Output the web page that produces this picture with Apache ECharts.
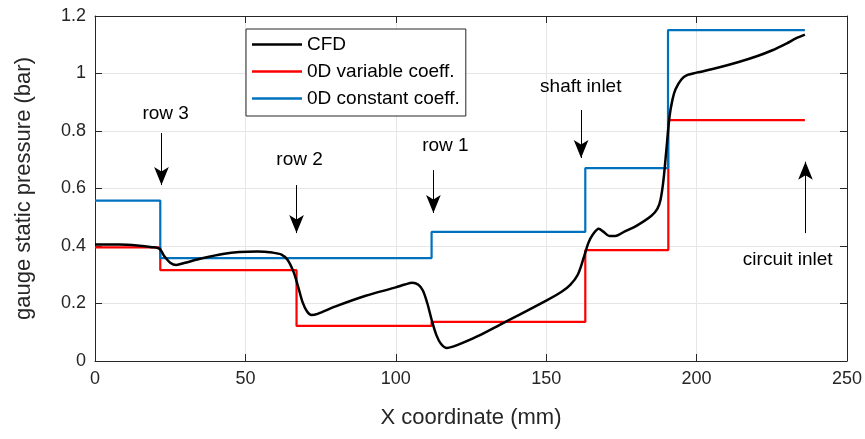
<!DOCTYPE html>
<html><head><meta charset="utf-8">
<script src="https://cdn.jsdelivr.net/npm/echarts@6/dist/echarts.min.js"></script>
<style>html,body{margin:0;padding:0;background:#fff}#c{width:865px;height:439px}</style>
</head><body><div id="c"></div>
<script>
// CFD curve
const cfdX = [0,8,14,19,21.5,23,25,27,30,36,42.5,48,54,59,62,64,66,67.5,69,70.5,72,74,80,90,100,103,105.5,107.5,109,110.5,112,113.5,115,117,119,122,128,135.5,140,150,155,158,160.5,162.5,164,165.5,167.5,169,171,173,176,180,185,187,188,189,190,191,192,193,195,197,200,207,214,220,225,230,233,236];
const cfdY = [0.405,0.405,0.402,0.396,0.39,0.365,0.342,0.334,0.342,0.358,0.372,0.379,0.381,0.377,0.37,0.352,0.31,0.26,0.205,0.172,0.16,0.164,0.19,0.227,0.256,0.266,0.272,0.265,0.245,0.2,0.14,0.09,0.06,0.045,0.05,0.062,0.09,0.131,0.155,0.21,0.24,0.265,0.3,0.36,0.41,0.44,0.46,0.45,0.435,0.435,0.45,0.47,0.505,0.53,0.56,0.63,0.74,0.85,0.91,0.945,0.98,0.995,1.003,1.02,1.04,1.06,1.08,1.105,1.122,1.135];
// 0D variable coeff. (piecewise constant)
const varEdges = [0,21.7,67,111.9,163,190.6,236];
const varLevels = [0.395,0.316,0.122,0.136,0.386,0.838];
// 0D constant coeff. (piecewise constant)
const constEdges = [0,21.7,111.9,163,190.5,236];
const constLevels = [0.558,0.358,0.449,0.671,1.151];
// axes
const xMin = 0, xMax = 250, xStep = 50;
const yMin = 0, yMax = 1.2, yStep = 0.2;
// annotations
const annoText = ['row 3','row 2','row 1','shaft inlet','circuit inlet'];
const annoTextX = [23.5,68,116.5,161.5,230.3];
const annoTextY = [0.86,0.70,0.748,0.953,0.351];
const arrowX = [22.1,67,112.5,161.6,236.2];
const arrowFrom = [0.793,0.612,0.664,0.873,0.445];
const arrowTo = [0.612,0.445,0.515,0.706,0.693];

function stepData(edges, levels){
  const d = [];
  for(let i=0;i<levels.length;i++) d.push([edges[i], levels[i]]);
  d.push([edges[edges.length-1], levels[levels.length-1]]);
  return d;
}
const FONT = '"Liberation Sans", Arial, Helvetica, sans-serif';
const chart = echarts.init(document.getElementById('c'), null, {renderer:'canvas'});
const axisCommon = {
  axisLine:{show:true, onZero:false, lineStyle:{color:'#262626', width:1}},
  axisTick:{show:true, inside:true, length:7, lineStyle:{color:'#262626'}},
};
chart.setOption({
  animation:false,
  backgroundColor:'#fff',
  grid:{left:95, right:17, top:16, bottom:78, containLabel:false},
  legend:{
    orient:'vertical', left:246, top:29,
    backgroundColor:'#fff', borderColor:'#262626', borderWidth:1,
    padding:[6,6,8,6], itemGap:8, itemWidth:50, itemHeight:2.5,
    icon:'rect',
    textStyle:{fontFamily:FONT, fontSize:19, color:'#000', lineHeight:19},
    data:['CFD','0D variable coeff.','0D constant coeff.']
  },
  xAxis:[
    Object.assign({}, axisCommon, {type:'value', min:xMin, max:xMax, interval:xStep, position:'bottom',
      name:'X coordinate (mm)', nameLocation:'middle', nameGap:46,
      nameTextStyle:{fontFamily:FONT, fontSize:22, color:'#262626'},
      axisLabel:{fontFamily:FONT, fontSize:18, color:'#262626', margin:9},
      splitLine:{show:true, lineStyle:{color:'#e6e6e6', width:1}}}),
    Object.assign({}, axisCommon, {type:'value', min:xMin, max:xMax, interval:xStep, position:'top',
      axisLabel:{show:false}, splitLine:{show:false}})
  ],
  yAxis:[
    Object.assign({}, axisCommon, {type:'value', min:yMin, max:yMax, interval:yStep, position:'left',
      name:'gauge static pressure (bar)', nameLocation:'middle', nameGap:60,
      nameTextStyle:{fontFamily:FONT, fontSize:22, color:'#262626'},
      axisLabel:{fontFamily:FONT, fontSize:18, color:'#262626', margin:9},
      splitLine:{show:true, lineStyle:{color:'#e6e6e6', width:1}}}),
    Object.assign({}, axisCommon, {type:'value', min:yMin, max:yMax, interval:yStep, position:'right',
      axisLabel:{show:false}, splitLine:{show:false}})
  ],
  series:[
    {name:'0D constant coeff.', type:'line', step:'end', showSymbol:false, symbol:'none',
      lineStyle:{color:'#0072BD', width:2.2}, itemStyle:{color:'#0072BD'},
      data:stepData(constEdges, constLevels), z:3},
    {name:'0D variable coeff.', type:'line', step:'end', showSymbol:false, symbol:'none',
      lineStyle:{color:'#FF0000', width:2.2}, itemStyle:{color:'#FF0000'},
      data:stepData(varEdges, varLevels), z:2},
    {name:'CFD', type:'line', smooth:0.3, showSymbol:false, symbol:'none',
      lineStyle:{color:'#000000', width:2.5}, itemStyle:{color:'#000000'},
      data:cfdX.map((x,i)=>[x,cfdY[i]]), z:4},
    {name:'annotations', type:'scatter', symbolSize:0, silent:true, z:5,
      itemStyle:{color:'#000', opacity:1},
      label:{show:true, position:'inside', fontFamily:FONT, fontSize:19, color:'#000',
        textBorderWidth:0, opacity:1, formatter:p=>annoText[p.dataIndex]},
      data:annoTextX.map((x,i)=>[x,annoTextY[i]]),
      markLine:{silent:true, symbol:['none','arrow'], symbolSize:[11,18],
        lineStyle:{color:'#000', width:1, type:'solid', opacity:1}, label:{show:false},
        data:arrowX.map((x,i)=>[{coord:[x,arrowFrom[i]]},{coord:[x,arrowTo[i]]}])}
    }
  ]
});
</script></body></html>
